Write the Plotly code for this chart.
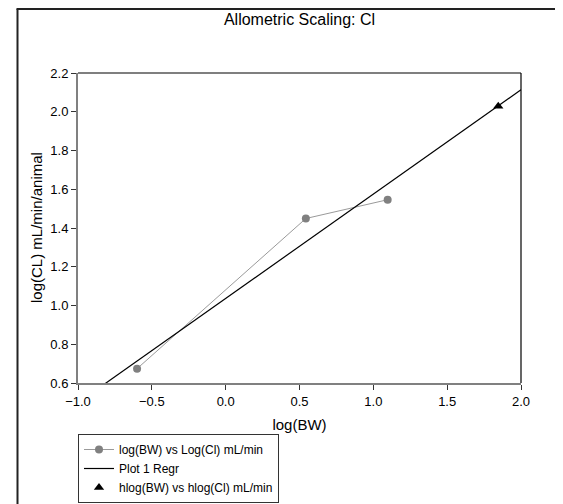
import numpy as np
import plotly.graph_objects as go

# Data
log_bw = [-0.60, 0.543, 1.097]
log_cl = [0.674, 1.449, 1.546]
human_log_bw = [1.846]
human_log_cl = [2.028]
x_ticks = [-1.0, -0.5, 0.0, 0.5, 1.0, 1.5, 2.0]
y_ticks = [0.6, 0.8, 1.0, 1.2, 1.4, 1.6, 1.8, 2.0, 2.2]

slope, intercept = np.polyfit(log_bw, log_cl, 1)
reg_x = [x_ticks[0], x_ticks[-1]]
reg_y = [intercept + slope * v for v in reg_x]

fig = go.Figure()
fig.add_trace(go.Scatter(
    x=log_bw, y=log_cl, mode="lines+markers",
    name="log(BW) vs Log(Cl) mL/min",
    line=dict(color="#9a9a9a", width=1),
    marker=dict(color="#808080", size=8),
))
fig.add_trace(go.Scatter(
    x=reg_x, y=reg_y, mode="lines", name="Plot 1 Regr",
    line=dict(color="black", width=1.2),
))
fig.add_trace(go.Scatter(
    x=human_log_bw, y=human_log_cl, mode="markers",
    name="hlog(BW) vs hlog(Cl) mL/min",
    marker=dict(color="black", symbol="triangle-up", size=9),
))

# the page body adds an 8px offset; figure coordinates below are screen - 8
OFF = 8
W, H = 563 - OFF, 504 - OFF
L, T = 78 - OFF, 73 - OFF
R, B = W - (521 - OFF), H - (383 - OFF)
pw, ph = W - L - R, H - T - B


def px_x(px):
    return (px - OFF - L) / pw


def px_y(py):
    return (H - B - (py - OFF)) / ph


shapes = [
    # top and right frame of plot area (black)
    dict(type="line", xref="paper", yref="paper", x0=0, x1=1, y0=1, y1=1,
         line=dict(color="black", width=1.2)),
    dict(type="line", xref="paper", yref="paper", x0=1, x1=1, y0=0, y1=1,
         line=dict(color="black", width=1.2)),
    # outer page frame (left and top)
    dict(type="line", xref="paper", yref="paper",
         x0=px_x(17.5), x1=px_x(17.5), y0=px_y(H + 20), y1=px_y(OFF + 1),
         line=dict(color="#222222", width=2)),
    dict(type="line", xref="paper", yref="paper",
         x0=px_x(16.5), x1=px_x(W + 20), y0=px_y(OFF + 1), y1=px_y(OFF + 1),
         line=dict(color="#222222", width=2)),
]

fig.update_layout(
    width=W, height=H,
    margin=dict(l=L, r=R, t=T, b=B, autoexpand=False),
    paper_bgcolor="white", plot_bgcolor="white",
    font=dict(family="Liberation Sans, Arial, sans-serif", color="black", size=13),
    title=dict(text="Allometric Scaling: Cl", x=(L + pw / 2) / W, xanchor="center",
               y=1 - (19 - OFF) / H, yanchor="middle", font=dict(size=16)),
    showlegend=True,
    legend=dict(xref="container", yref="container",
                x=(78 - OFF) / W, y=1 - (434 - OFF) / H, xanchor="left", yanchor="top",
                bordercolor="#333333", borderwidth=1, bgcolor="white",
                font=dict(size=12), itemwidth=30,
                tracegroupgap=0),
    shapes=shapes,
    annotations=[dict(
        text="log(CL) mL/min/animal", xref="paper", yref="paper",
        x=px_x(36), y=0.5, xanchor="center", yanchor="middle",
        textangle=-90, showarrow=False, font=dict(size=15),
    )],
)
fig.update_xaxes(
    range=[-1.0, 2.0], tickvals=x_ticks, tickformat=".1f",
    showgrid=False, zeroline=False, showline=True, linecolor="#808080", linewidth=2,
    ticks="outside", ticklen=5, tickcolor="#333333", tickwidth=1,
    title=dict(text="log(BW)", font=dict(size=15), standoff=12),
    tickfont=dict(size=13),
)
fig.update_yaxes(
    range=[0.6, 2.2], tickvals=y_ticks, tickformat=".1f",
    showgrid=False, zeroline=False, showline=True, linecolor="#808080", linewidth=2,
    ticks="outside", ticklen=5, tickcolor="#333333", tickwidth=1,
    tickfont=dict(size=13),
)

fig.write_html("out.html")
